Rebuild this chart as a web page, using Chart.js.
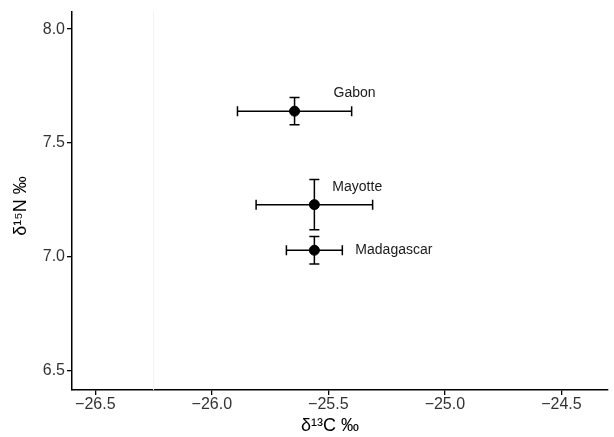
<!DOCTYPE html>
<html>
<head>
<meta charset="utf-8">
<script src="https://cdn.jsdelivr.net/npm/chart.js@4/dist/chart.umd.min.js"></script>
<style>
  html, body { margin: 0; padding: 0; background: #fff; }
  #wrap { width: 614px; height: 437px; }
</style>
</head>
<body>
<div id="wrap"><canvas id="iso" width="614" height="437"></canvas></div>
<script>
// sites and their mean values with error ranges
const sites = ['Gabon', 'Mayotte', 'Madagascar'];
const d13C = [-25.645, -25.56, -25.56];
const d13CLow = [-25.89, -25.81, -25.68];
const d13CHigh = [-25.40, -25.31, -25.44];
const d15N = [7.64, 7.23, 7.03];
const d15NLow = [7.58, 7.12, 6.97];
const d15NHigh = [7.70, 7.34, 7.09];

const xTicks = [-26.5, -26.0, -25.5, -25.0, -24.5];
const yTicks = [6.5, 7.0, 7.5, 8.0];
const refLine = -26.25;

// label offsets in px from the point (left edge of text)
const labelShift = [[39, -18], [18, -18], [41, 0]];

const fontFam = 'Arial, "Liberation Sans", sans-serif';
const fmt = v => v.toFixed(1).replace('-', '\u2212');

const errorBars = {
  id: 'errorBars',
  beforeDatasetsDraw(chart) {
    const { ctx, scales: { x, y }, chartArea } = chart;
    // faint vertical line
    const rx = x.getPixelForValue(refLine);
    ctx.save();
    ctx.strokeStyle = '#f2f2f2';
    ctx.lineWidth = 1;
    ctx.beginPath();
    ctx.moveTo(rx, chartArea.top);
    ctx.lineTo(rx, chartArea.bottom);
    ctx.stroke();

    ctx.strokeStyle = '#000';
    ctx.lineWidth = 1.5;
    const cap = 5;
    sites.forEach((s, i) => {
      const px = x.getPixelForValue(d13C[i]);
      const py = y.getPixelForValue(d15N[i]);
      const xl = x.getPixelForValue(d13CLow[i]);
      const xh = x.getPixelForValue(d13CHigh[i]);
      const yl = y.getPixelForValue(d15NLow[i]);
      const yh = y.getPixelForValue(d15NHigh[i]);
      ctx.beginPath();
      ctx.moveTo(xl, py); ctx.lineTo(xh, py);
      ctx.moveTo(xl, py - cap); ctx.lineTo(xl, py + cap);
      ctx.moveTo(xh, py - cap); ctx.lineTo(xh, py + cap);
      ctx.moveTo(px, yl); ctx.lineTo(px, yh);
      ctx.moveTo(px - cap, yl); ctx.lineTo(px + cap, yl);
      ctx.moveTo(px - cap, yh); ctx.lineTo(px + cap, yh);
      ctx.stroke();
    });
    ctx.restore();
  },
  afterDatasetsDraw(chart) {
    const { ctx, scales: { x, y } } = chart;
    ctx.save();
    ctx.fillStyle = '#1a1a1a';
    ctx.font = '14px ' + fontFam;
    ctx.textBaseline = 'middle';
    ctx.textAlign = 'left';
    sites.forEach((s, i) => {
      const px = x.getPixelForValue(d13C[i]);
      const py = y.getPixelForValue(d15N[i]);
      ctx.fillText(s, px + labelShift[i][0], py + labelShift[i][1]);
    });
    ctx.restore();
  }
};

new Chart(document.getElementById('iso'), {
  type: 'scatter',
  data: {
    datasets: [{
      data: sites.map((s, i) => ({ x: d13C[i], y: d15N[i] })),
      backgroundColor: '#000',
      borderColor: '#000',
      pointRadius: 5,
      pointHoverRadius: 5
    }]
  },
  options: {
    responsive: false,
    animation: false,
    layout: { padding: { top: 12, right: 0, left: 0, bottom: 0 } },
    plugins: { legend: { display: false }, tooltip: { enabled: false } },
    scales: {
      x: {
        min: -26.6,
        max: -24.30,
        afterBuildTicks: s => { s.ticks = xTicks.map(v => ({ value: v })); },
        afterFit: s => { s.height = 47; s.paddingLeft = 0; s.paddingRight = 0; },
        grid: { drawOnChartArea: false, drawTicks: true, tickLength: 5, color: '#000', lineWidth: 1.3 },
        border: { display: true, color: '#000', width: 1.5 },
        ticks: { callback: v => fmt(v), color: '#333', font: { family: fontFam, size: 16 }, padding: 0, maxRotation: 0 },
        title: { display: true, text: 'δ\u00B9\u00B3C ‰    ', color: '#000', font: { family: fontFam, size: 18 }, padding: { top: 0, bottom: 0 } }
      },
      y: {
        min: 6.417,
        max: 8.075,
        afterBuildTicks: s => { s.ticks = yTicks.map(v => ({ value: v })); },
        afterFit: s => { s.width = 72; s.paddingTop = 0; s.paddingBottom = 0; },
        grid: { drawOnChartArea: false, drawTicks: true, tickLength: 5, color: '#000', lineWidth: 1.3 },
        border: { display: true, color: '#000', width: 1.5 },
        ticks: { callback: v => fmt(v), color: '#333', font: { family: fontFam, size: 16 }, padding: 2 },
        title: { display: true, text: 'δ\u00B9\u2075N ‰  ', color: '#000', font: { family: fontFam, size: 18 }, padding: { top: 10, bottom: 0 } }
      }
    }
  },
  plugins: [errorBars]
});
</script>
</body>
</html>
